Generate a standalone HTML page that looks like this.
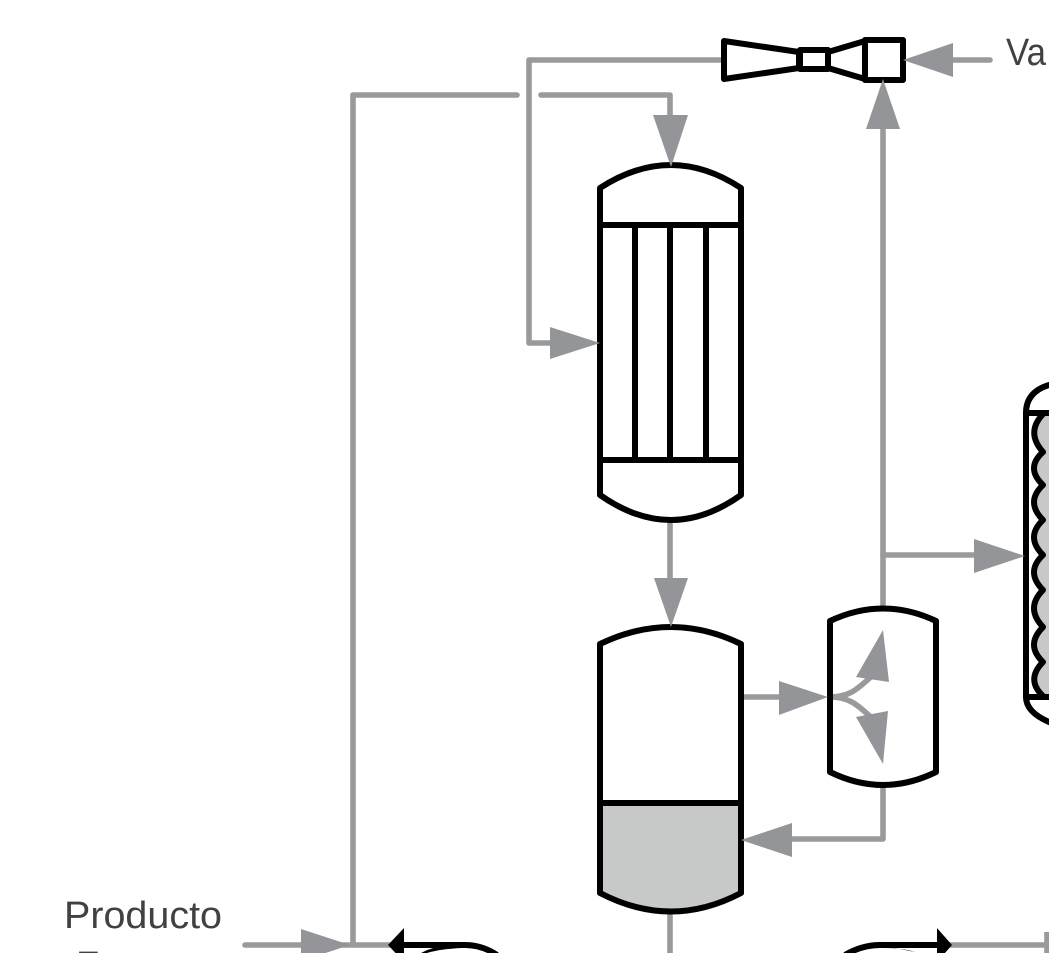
<!DOCTYPE html>
<html>
<head>
<meta charset="utf-8">
<style>
html,body{margin:0;padding:0;background:#fff;overflow:hidden}
svg{display:block}
.g{fill:none;stroke:#999a9c;stroke-width:5.6;stroke-linecap:round;stroke-linejoin:round}
.h{fill:#939598;stroke:none}
.k{fill:none;stroke:#000;stroke-width:6;stroke-linejoin:round;stroke-linecap:round}
text{font-family:"Liberation Sans",sans-serif;fill:#414042;font-size:38px}
</style>
</head>
<body>
<svg width="1049" height="953" viewBox="0 0 1049 953" xmlns="http://www.w3.org/2000/svg">
<rect width="1049" height="953" fill="#fff"/>

<!-- Grey lines -->
<path class="g" d="M723,60H529V343H552"/>
<path class="g" d="M517,95H353V945"/>
<path class="g" d="M541,95H670V118"/>
<path class="g" d="M670,520V582"/>
<path class="g" d="M743,697H782"/>
<path class="g" d="M883,608V128"/>
<path class="g" d="M883,555H977"/>
<path class="g" d="M883,785V839H790"/>
<path class="g" d="M990,60H950"/>
<path class="g" d="M245,945H390"/>
<path class="g" d="M950,945H1047"/>
<path class="g" d="M670,912V953"/>
<path class="g" d="M1047,932V953" style="stroke-linecap:butt"/>
<path class="g" d="M830,697C852,697 860,686 872,676"/>
<path class="g" d="M830,697C852,697 860,708 872,718"/>

<!-- Vessel 1 -->
<g class="k">
<path d="M600,188Q671,142 741,188V495Q671,545 600,495Z"/>
<path d="M600,225H741M600,460H741M635,225V460M670,225V460M706,225V460"/>
</g>

<!-- Vessel 2 -->
<path d="M600,803H741V893Q671,930 600,893Z" fill="#c7c8c8"/>
<g class="k">
<path d="M600,644Q671,610 741,644V893Q671,930 600,893Z"/>
<path d="M600,803H741"/>
</g>

<!-- Separator -->
<path class="k" d="M830,621Q883,596 936,621V772Q883,798 830,772Z"/>

<!-- Ejector -->
<g class="k">
<path d="M724,41L799,52V68L724,79Z"/>
<path d="M800,50H828V69H800Z"/>
<path d="M828,52L865,41V79L828,68"/>
<path d="M865,40H903V80H865Z"/>
</g>

<!-- Right column -->
<path d="M1044,413H1049V697H1044Q1025,680 1043,662Q1025,645 1043,627Q1025,608 1043,590Q1025,572 1043,555Q1025,537 1043,520Q1025,502 1043,485Q1025,468 1043,452Q1025,432 1044,413Z" fill="#c7c8c8"/>
<path class="k" d="M1049,385Q1026,392 1026,413V697Q1026,712 1049,722"/>
<path class="k" d="M1026,413H1049M1026,697H1049"/>
<path class="k" d="M1044,413Q1025,432 1043,452Q1025,468 1043,485Q1025,502 1043,520Q1025,537 1043,555Q1025,572 1043,590Q1025,608 1043,627Q1025,645 1043,662Q1025,680 1044,697"/>

<!-- Bottom exchangers -->
<path class="k" style="stroke-linecap:butt" d="M400,945H465Q482,945 497,955"/>
<path d="M421,953Q434,946 450,945L462,948Q440,949 427,953Z" fill="#000"/>
<path class="k" style="stroke-linecap:butt" d="M845,955Q862,945 880,945H940"/>
<path d="M880,945L915,952Q902,948 885,948Z" fill="#000"/>
<path d="M388,945L404,928V962Z" fill="#000"/>
<path d="M952,945L937,928V962Z" fill="#000"/>

<!-- Grey arrowheads -->
<polygon class="h" points="550,327 600,343 550,359"/>
<polygon class="h" points="653,115 688,115 671,167"/>
<polygon class="h" points="654,578 688,578 671,627"/>
<polygon class="h" points="779,681 828,697 779,715"/>
<polygon class="h" points="883,630 856,677 889,682"/>
<polygon class="h" points="883,764 856,717 888,711"/>
<polygon class="h" points="866,129 883,79 900,129"/>
<polygon class="h" points="974,539 1025,556 974,573"/>
<polygon class="h" points="792,823 741,840 792,857"/>
<polygon class="h" points="953,43 903,60 953,77"/>
<polygon class="h" points="301,929 350,945 301,961"/>

<!-- Labels -->
<text x="1006" y="65" textLength="40" lengthAdjust="spacingAndGlyphs">Va</text>
<text x="1052" y="65">por</text>
<text x="64" y="928" textLength="158" lengthAdjust="spacingAndGlyphs">Producto</text>
<text x="76" y="978">Fresco</text>
</svg>
</body>
</html>
